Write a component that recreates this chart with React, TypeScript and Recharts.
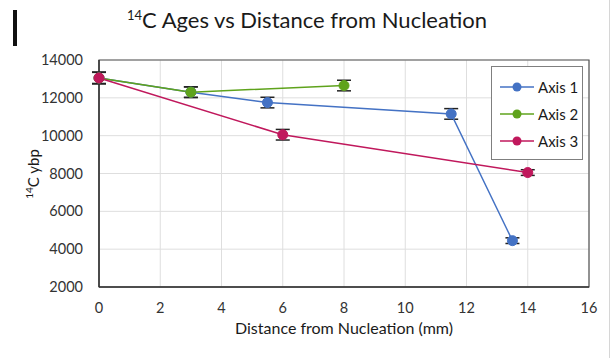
import {
  ComposedChart,
  Line,
  XAxis,
  YAxis,
  CartesianGrid,
  ErrorBar,
  ReferenceArea,
} from 'recharts';

// distance from nucleation (mm), 14C age (ybp), 1-sigma error
const axis1Distance = [0, 3, 5.5, 11.5, 13.5];
const axis1Age = [13050, 12300, 11750, 11150, 4450];
const axis1Err = [300, 280, 280, 280, 150];

const axis2Distance = [0, 3, 8];
const axis2Age = [13050, 12300, 12650];
const axis2Err = [300, 280, 280];

const axis3Distance = [0, 6, 14];
const axis3Age = [13050, 10050, 8050];
const axis3Err = [300, 280, 150];

const xTicks = [0, 2, 4, 6, 8, 10, 12, 14, 16];
const yTicks = [2000, 4000, 6000, 8000, 10000, 12000, 14000];

const seriesNames = ['Axis 1', 'Axis 2', 'Axis 3'];
const seriesColors = ['#4472c4', '#5fa31c', '#c0185c'];

const toRows = (xs: number[], ys: number[], es: number[]) =>
  xs.map((x, i) => ({ x, y: ys[i], err: es[i] }));

const series = [
  toRows(axis1Distance, axis1Age, axis1Err),
  toRows(axis2Distance, axis2Age, axis2Err),
  toRows(axis3Distance, axis3Age, axis3Err),
];

const FONT = 'Lato, "Open Sans", sans-serif';

function LegendBox() {
  return (
    <div
      style={{
        position: 'absolute',
        left: 491,
        top: 66,
        border: '1px solid #7f7f7f',
        background: '#fff',
        width: 92,
        height: 94,
        boxSizing: 'border-box',
        padding: '6px 0 0 8px',
        fontFamily: FONT,
        fontSize: 15,
        color: '#1a1a1a',
      }}
    >
      {seriesNames.map((name, i) => (
        <div key={name} style={{ display: 'flex', alignItems: 'center', height: 27 }}>
          <svg width={34} height={12} style={{ marginRight: 4 }}>
            <line x1={0} y1={6} x2={34} y2={6} stroke={seriesColors[i]} strokeWidth={1.5} />
            <circle cx={17} cy={6} r={4.5} fill={seriesColors[i]} />
          </svg>
          <span>{name}</span>
        </div>
      ))}
    </div>
  );
}

export default function App() {
  return (
    <div style={{ position: 'absolute', left: 0, top: 0, width: 614, height: 358, background: '#fff' }}>
      <div style={{ position: 'absolute', left: 13, top: 10, width: 4, height: 36, background: '#111' }} />
      <div style={{ position: 'absolute', left: 609, top: 0, width: 1, height: 358, background: '#d6d6d6' }} />
      <div
        style={{
          position: 'absolute',
          left: 0,
          width: 614,
          top: 6,
          textAlign: 'center',
          fontFamily: FONT,
          fontSize: 22,
          color: '#1a1a1a',
        }}
      >
        <sup style={{ fontSize: 13 }}>14</sup>C Ages vs Distance from Nucleation
      </div>
      <div
        style={{
          position: 'absolute',
          left: 32,
          top: 174,
          transform: 'translate(-50%, -50%) rotate(-90deg)',
          whiteSpace: 'nowrap',
          fontFamily: FONT,
          fontSize: 15,
          color: '#1a1a1a',
        }}
      >
        <sup style={{ fontSize: 10 }}>14</sup>C ybp
      </div>
      <ComposedChart
        width={614}
        height={358}
        margin={{ top: 60, right: 25, bottom: 21, left: 43 }}
        style={{ fontFamily: FONT }}
      >
        <CartesianGrid stroke="#dedede" />
        <XAxis
          type="number"
          dataKey="x"
          domain={[0, 16]}
          ticks={xTicks}
          allowDuplicatedCategory={false}
          tick={{ fontSize: 14.5, fill: '#333' }}
          tickLine={false}
          axisLine={{ stroke: '#333', strokeWidth: 1.5 }}
          tickMargin={10}
          height={50}
          label={{ value: 'Distance from Nucleation (mm)', position: 'insideBottom', offset: 3, fontSize: 16, fill: '#1a1a1a' }}
        />
        <YAxis
          type="number"
          dataKey="y"
          domain={[2000, 14000]}
          ticks={yTicks}
          tick={{ fontSize: 14.5, fill: '#333' }}
          tickLine={false}
          axisLine={{ stroke: '#333', strokeWidth: 1.5 }}
          tickMargin={10}
          width={56}
        />
        <ReferenceArea x1={0} x2={16} y1={2000} y2={14000} fill="none" stroke="#555" strokeWidth={1.2} />
        {series.map((rows, i) => (
          <Line
            key={seriesNames[i]}
            data={rows}
            dataKey="y"
            name={seriesNames[i]}
            stroke={seriesColors[i]}
            strokeWidth={1.5}
            dot={{ r: 5, fill: seriesColors[i], stroke: seriesColors[i], strokeWidth: 1 }}
            isAnimationActive={false}
          >
            <ErrorBar dataKey="err" width={7} stroke="#222" strokeWidth={1.5} direction="y" />
          </Line>
        ))}
      </ComposedChart>
      <LegendBox />
    </div>
  );
}
